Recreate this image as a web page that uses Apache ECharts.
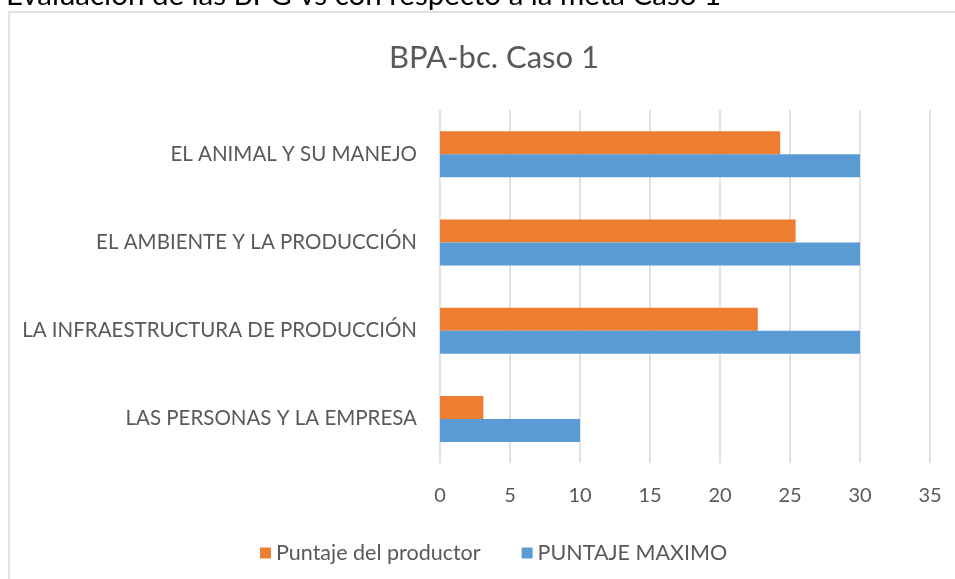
<!DOCTYPE html>
<html>
<head>
<meta charset="utf-8">
<script src="https://cdn.jsdelivr.net/npm/echarts@6/dist/echarts.min.js"></script>
<style>
html,body{margin:0;padding:0;background:#fff;}
#c{width:955px;height:579px;}
</style>
</head>
<body>
<div id="c"></div>
<script>
const categories = ['LAS PERSONAS Y LA EMPRESA', 'LA INFRAESTRUCTURA DE PRODUCCIÓN', 'EL AMBIENTE Y LA PRODUCCIÓN', 'EL ANIMAL Y SU MANEJO'];
const puntajeMaximo = [10, 30, 30, 30];
const puntajeProductor = [3.1, 22.7, 25.4, 24.3];
const xTicks = { min: 0, max: 35, interval: 5 };
const FONT = 'Lato, "Open Sans", sans-serif';

const chart = echarts.init(document.getElementById('c'));
chart.setOption({
  backgroundColor: '#fff',
  animation: false,
  graphic: [
    { type: 'rect', shape: { x: 9, y: 12, width: 980, height: 600 }, style: { fill: 'none', stroke: '#d9d9d9', lineWidth: 1.5 }, silent: true },
    { type: 'text', style: { x: 6, y: 10, text: 'Evaluación de las BPG vs con respecto a la meta Caso 1', fill: '#000', font: '29.5px ' + FONT, verticalAlign: 'bottom', align: 'left' } }
  ],
  title: {
    text: 'BPA-bc. Caso 1',
    left: 489, top: 37, textAlign: 'center',
    textStyle: { color: '#595959', fontSize: 31, fontWeight: 'normal', fontFamily: FONT }
  },
  legend: {
    data: ['Puntaje del productor', 'PUNTAJE MAXIMO'],
    left: 255, top: 537,
    itemWidth: 11, itemHeight: 11, itemGap: 41,
    icon: 'rect',
    textStyle: { color: '#595959', fontSize: 21.5, fontFamily: FONT }
  },
  grid: { left: 440, right: 25, top: 110, bottom: 116, containLabel: false },
  xAxis: {
    type: 'value', min: xTicks.min, max: xTicks.max, interval: xTicks.interval,
    axisLine: { show: false }, axisTick: { show: false },
    splitLine: { lineStyle: { color: '#d9d9d9', width: 1.5 } },
    axisLabel: { color: '#595959', fontSize: 20, fontFamily: FONT, margin: 23 }
  },
  yAxis: {
    type: 'category', data: categories,
    axisLine: { show: false }, axisTick: { show: false },
    axisLabel: { color: '#595959', fontSize: 20.5, fontFamily: FONT, margin: 23 }
  },
  series: [
    { name: 'Puntaje del productor', type: 'bar', data: puntajeProductor, barWidth: 23, barGap: '0%', itemStyle: { color: '#ED7D31' } },
    { name: 'PUNTAJE MAXIMO', type: 'bar', data: puntajeMaximo, barWidth: 23, barGap: '0%', itemStyle: { color: '#5B9BD5' } }
  ]
});
</script>
</body>
</html>
